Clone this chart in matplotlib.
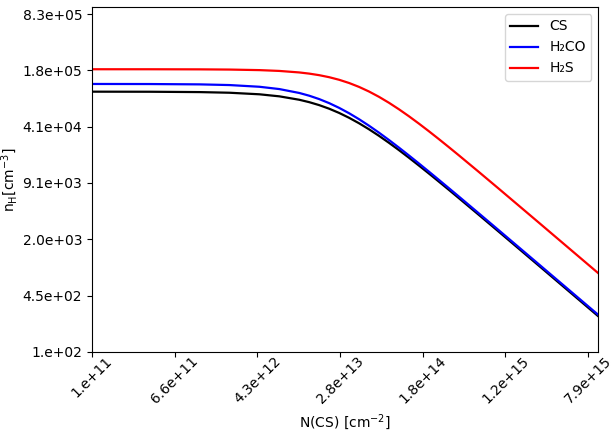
import matplotlib

matplotlib.use("Agg")
import matplotlib.pyplot as plt

# column density of CS [cm^-2]
n_cs = [1.0e11, 3.72e11, 1.156e12, 2.282e12, 4.504e12, 7.087e12, 1.115e13, 1.399e13,
        1.754e13, 2.200e13, 2.760e13, 3.463e13, 4.343e13, 5.447e13, 6.832e13, 8.573e13,
        1.075e14, 1.349e14, 1.692e14, 2.122e14, 2.662e14, 3.339e14, 4.188e14, 6.592e14,
        1.037e15, 2.567e15, 1.0e16]

# critical densities [cm^-3]
nh_cs = [1.0415e5, 1.0394e5, 1.0299e5, 1.0123e5, 9.711e4, 9.194e4, 8.392e4, 7.869e4,
         7.271e4, 6.608e4, 5.903e4, 5.183e4, 4.478e4, 3.811e4, 3.201e4, 2.657e4,
         2.187e4, 1.785e4, 1.449e4, 1.172e4, 9.437e3, 7.582e3, 6.079e3, 3.891e3,
         2.4835e3, 1006.7, 258.6]
nh_h2co = [1.2795e5, 1.2771e5, 1.2655e5, 1.2427e5, 1.1874e5, 1.1165e5, 1.0061e5, 9.348e4,
           8.544e4, 7.669e4, 6.759e4, 5.854e4, 4.990e4, 4.194e4, 3.484e4, 2.8645e4,
           2.3389e4, 1.8965e4, 1.5319e4, 1.2332e4, 9.900e3, 7.934e3, 6.350e3, 4.052e3,
           2.583e3, 1045, 268.5]
nh_h2s = [1.8958e5, 1.8949e5, 1.8900e5, 1.8796e5, 1.8520e5, 1.8123e5, 1.7404e5, 1.6866e5,
          1.6182e5, 1.5331e5, 1.4307e5, 1.3127e5, 1.1825e5, 1.0454e5, 9.073e4, 7.740e4,
          6.509e4, 5.4025e4, 4.4417e4, 3.6236e4, 2.9378e4, 2.3709e4, 1.9074e4, 1.2251e4,
          7.833e3, 3.178e3, 816.9]

x_ticks = [1.0e11, 6.551e11, 4.292e12, 2.812e13, 1.842e14, 1.207e15, 7.905e15]
x_ticklabels = ["1.e+11", "6.6e+11", "4.3e+12", "2.8e+13", "1.8e+14", "1.2e+15", "7.9e+15"]
y_ticks = [1.0e2, 449.8, 2023.6, 9103, 40950, 184200, 828600]
y_ticklabels = ["1.e+02", "4.5e+02", "2.0e+03", "9.1e+03", "4.1e+04", "1.8e+05", "8.3e+05"]

fig = plt.figure(figsize=(6.13, 4.36), dpi=100)
ax = fig.add_axes([0.150, 0.193, 0.826, 0.791])

ax.plot(n_cs, nh_cs, color="black", lw=1.6, label="CS")
ax.plot(n_cs, nh_h2co, color="blue", lw=1.6, label="H₂CO")
ax.plot(n_cs, nh_h2s, color="red", lw=1.6, label="H₂S")

ax.set_xscale("log")
ax.set_yscale("log")
ax.set_xlim(1e11, 1e16)
ax.set_ylim(1e2, 1e6)
ax.set_xticks(x_ticks)
ax.set_xticklabels(x_ticklabels, rotation=45)
ax.set_yticks(y_ticks)
ax.set_yticklabels(y_ticklabels)
ax.minorticks_off()
ax.tick_params(axis="x", pad=-2)

ax.set_xlabel(r"N(CS) [cm$^{-2}$]")
ax.set_ylabel(r"n$_{\rm H}$[cm$^{-3}$]", labelpad=1.5)
ax.legend(loc="upper right")

fig.savefig("out.png", dpi=100)
